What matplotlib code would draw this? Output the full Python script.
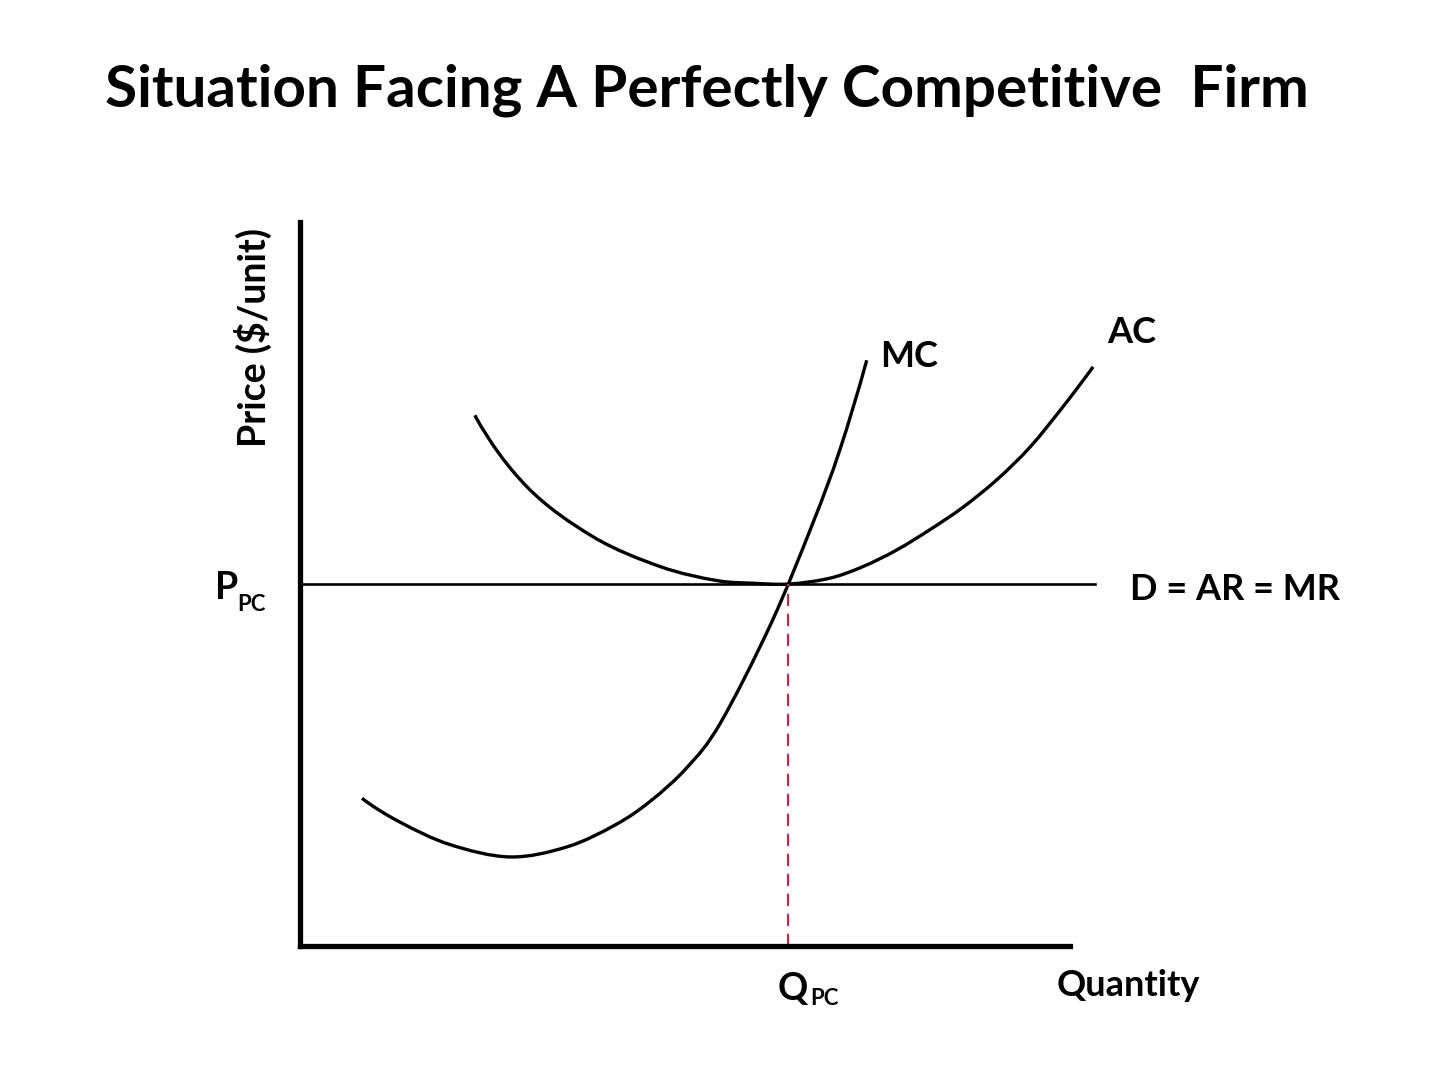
import matplotlib
matplotlib.use("Agg")
import matplotlib.pyplot as plt
import numpy as np
from matplotlib.path import Path
from matplotlib.patches import PathPatch

# Curves (quantity, price in arbitrary units)
mc_q = [0.805, 1.30, 1.95, 2.73, 3.47, 4.09, 4.55, 5.03, 5.46, 6.12, 6.66, 7.01, 7.36]
mc_p = [2.04, 1.71, 1.40, 1.23, 1.37, 1.67, 2.00, 2.47, 3.08, 4.46, 5.84, 6.85, 8.09]

ac_q = [2.27, 2.95, 3.81, 4.68, 5.40, 5.90, 6.36, 6.88, 7.31, 7.75, 8.18, 8.61, 9.05, 9.48, 9.91, 10.30]
ac_p = [7.33, 6.34, 5.65, 5.24, 5.05, 5.01, 5.00, 5.08, 5.24, 5.47, 5.75, 6.06, 6.44, 6.89, 7.45, 8.00]

p_pc = 5.0
q_pc = 6.34
d_end = 10.32

title = "Situation Facing A Perfectly Competitive  Firm"
font = "Lato"


# smooth curve through the read points (Catmull-Rom as cubic beziers)
def smooth_path(xs, ys):
    pts = np.column_stack([xs, ys])
    n = len(pts)
    # quadratic extrapolation for the end tangents
    first = 3 * pts[0] - 3 * pts[1] + pts[2]
    last = 3 * pts[-1] - 3 * pts[-2] + pts[-3]
    ext = np.vstack([first, pts, last])
    verts = [pts[0]]
    codes = [Path.MOVETO]
    for i in range(1, n):
        p0, p1, p2, p3 = ext[i - 1], ext[i], ext[i + 1], ext[i + 2]
        verts += [p1 + (p2 - p0) / 6, p2 - (p3 - p1) / 6, p2]
        codes += [Path.CURVE4] * 3
    return Path(verts, codes)


fig = plt.figure(figsize=(14.4, 10.8), dpi=100)
fig.patch.set_facecolor("white")
ax = fig.add_axes([300 / 1440, 134 / 1080, 800 / 1440, 724 / 1080])
ax.set_xlim(0, 800 / 77)
ax.set_ylim(0, 10)

for s in ["top", "right"]:
    ax.spines[s].set_visible(False)
ax.spines["left"].set_linewidth(3.8)
ax.spines["bottom"].set_linewidth(3.8)
ax.spines["bottom"].set_bounds(0, 10)
ax.spines["left"].set_capstyle("projecting")
ax.spines["bottom"].set_capstyle("projecting")
ax.set_xticks([])
ax.set_yticks([])

ax.plot([0, d_end], [p_pc, p_pc], color="black", lw=1.9, clip_on=False)
for xs, ys in [(ac_q, ac_p), (mc_q, mc_p)]:
    ax.add_patch(PathPatch(smooth_path(xs, ys), fill=False, edgecolor="black",
                           lw=2.4, capstyle="butt", clip_on=False))
ax.plot([q_pc, q_pc], [0, p_pc], color="#c8284a", lw=1.6, ls=(0, (5.5, 3.5)), clip_on=False)

kw = dict(fontfamily=font, fontweight="bold", color="black", clip_on=False)
ax.text(7.53, 8.14, "MC", ha="left", va="center", fontsize=26, **kw)
ax.text(10.48, 8.48, "AC", ha="left", va="center", fontsize=26, **kw)
ax.text(10.78, 4.92, "D = AR = MR", ha="left", va="center", fontsize=26, **kw)
ax.text(9.83, -0.54, "Quantity", ha="left", va="center", fontsize=26, **kw)
ax.text(-0.61, 8.41, "Price ($/unit)", ha="center", va="center", rotation=90, fontsize=27, **kw)

# P_PC and Q_PC labels
ax.text(-1.11, 4.94, "P", ha="left", va="center", fontsize=27, **kw)
ax.text(-0.82, 4.71, "PC", ha="left", va="center", fontsize=16, **kw)
ax.text(6.20, -0.60, "Q", ha="left", va="center", fontsize=27, **kw)
ax.text(6.63, -0.72, "PC", ha="left", va="center", fontsize=16, **kw)

fig.text(707 / 1440, 1 - 90 / 1080, title, ha="center", va="center",
         fontsize=42, fontfamily=font, fontweight="bold")

fig.savefig("out.png", dpi=100)
